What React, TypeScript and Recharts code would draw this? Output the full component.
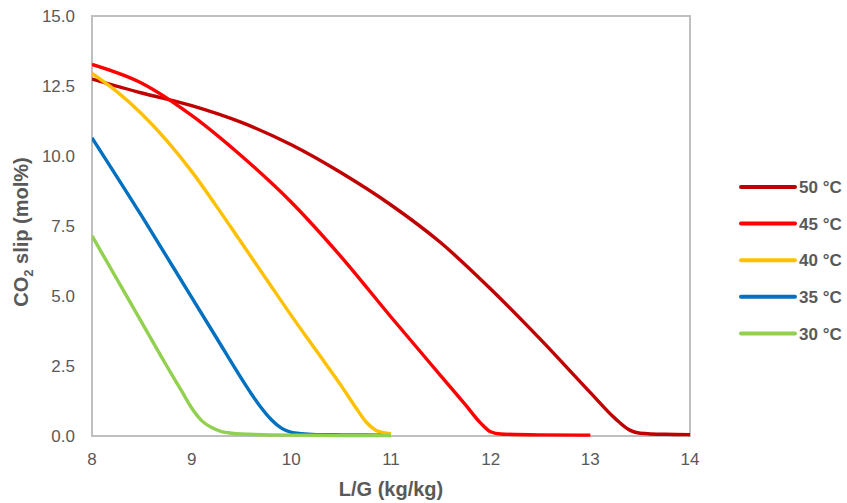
import { LineChart, Line, XAxis, YAxis, ReferenceArea, Legend } from 'recharts'

const FONT = '"Liberation Sans", Arial, sans-serif'
const TEXT = '#595959'
const FRAME = '#BFBFBF'

const X_TICKS = [8, 9, 10, 11, 12, 13, 14]
const Y_TICKS = [0, 2.5, 5, 7.5, 10, 12.5, 15]

// L/G (kg/kg) vs CO2 slip (mol%), one pair of lists per absorber temperature
const LG_50 = [8, 8.5, 9, 9.5, 10, 10.5, 11, 11.5, 12, 12.5, 13, 13.25, 13.4, 13.5, 13.75, 14]
const SLIP_50 = [12.75, 12.25, 11.8, 11.2, 10.4, 9.4, 8.25, 6.9, 5.25, 3.45, 1.55, 0.62, 0.2, 0.1, 0.06, 0.05]

const LG_45 = [8, 8.5, 9, 9.5, 10, 10.5, 11, 11.5, 11.75, 11.9, 12, 12.1, 12.5, 13]
const SLIP_45 = [13.27, 12.6, 11.45, 10.0, 8.35, 6.4, 4.25, 2.15, 1.1, 0.46, 0.15, 0.07, 0.04, 0.03]

const LG_40 = [8, 8.25, 8.5, 8.75, 9, 9.25, 9.5, 9.75, 10, 10.25, 10.5, 10.65, 10.75, 10.85, 10.95, 11]
const SLIP_40 = [12.95, 12.3, 11.5, 10.55, 9.45, 8.2, 6.9, 5.6, 4.3, 3.05, 1.8, 1.0, 0.5, 0.2, 0.1, 0.08]

const LG_35 = [8, 8.5, 9, 9.25, 9.5, 9.6, 9.7, 9.8, 9.9, 10, 10.1, 10.25, 10.5, 10.9]
const SLIP_35 = [10.65, 7.85, 4.95, 3.5, 2.05, 1.5, 1.0, 0.58, 0.28, 0.13, 0.08, 0.05, 0.04, 0.03]

const LG_30 = [8, 8.25, 8.5, 8.75, 8.9, 9, 9.1, 9.2, 9.3, 9.4, 9.5, 10, 10.5, 11]
const SLIP_30 = [7.15, 5.6, 4.05, 2.5, 1.6, 1.0, 0.55, 0.3, 0.16, 0.1, 0.07, 0.03, 0.02, 0.02]

const SERIES = [
  { name: '50 °C', color: '#C00000', lg: LG_50, slip: SLIP_50 },
  { name: '45 °C', color: '#FF0000', lg: LG_45, slip: SLIP_45 },
  { name: '40 °C', color: '#FFC000', lg: LG_40, slip: SLIP_40 },
  { name: '35 °C', color: '#0070C0', lg: LG_35, slip: SLIP_35 },
  { name: '30 °C', color: '#92D050', lg: LG_30, slip: SLIP_30 }
]

const toPoints = (lg: number[], slip: number[]) => lg.map((x, i) => ({ x, y: slip[i] }))

const renderLegend = () => (
  <svg width={112} height={185}>
    {SERIES.map((s, i) => (
      <g key={s.name} transform={`translate(0, ${17 + i * 36.6})`}>
        <line x1={6} x2={60} y1={0} y2={0} stroke={s.color} strokeWidth={4} strokeLinecap="round" />
        <text x={64} y={0} dy="0.36em" fontSize={17} fontWeight="bold" fill={TEXT} fontFamily={FONT}>
          {s.name}
        </text>
      </g>
    ))}
  </svg>
)

const XTitle = ({ viewBox }: any) => (
  <text
    x={viewBox.x + viewBox.width / 2}
    y={viewBox.y + 60}
    textAnchor="middle"
    fontSize={20}
    fontWeight="bold"
    fill={TEXT}
    fontFamily={FONT}
  >
    L/G (kg/kg)
  </text>
)

const YTitle = ({ viewBox }: any) => (
  <text
    transform={`translate(${viewBox.x + 28}, ${viewBox.y + viewBox.height / 2 + 6}) rotate(-90)`}
    textAnchor="middle"
    fontSize={20}
    fontWeight="bold"
    fill={TEXT}
    fontFamily={FONT}
  >
    <tspan>CO</tspan>
    <tspan fontSize={13} dy={5}>2</tspan>
    <tspan dy={-5}> slip (mol%)</tspan>
  </text>
)

export default function App() {
  const tick = { fill: TEXT, fontSize: 17, fontFamily: FONT }
  return (
    <div style={{ position: 'absolute', left: 0, top: 0, background: '#fff' }}>
      {/* right margin leaves room for the legend box recharts adds on its own */}
      <LineChart width={847} height={503} margin={{ top: 16, right: 45, bottom: 0, left: 0 }}>
        <XAxis
          type="number"
          dataKey="x"
          domain={[8, 14]}
          ticks={X_TICKS}
          allowDataOverflow
          axisLine={false}
          tickLine={false}
          tickSize={0}
          tickMargin={17}
          height={67}
          tick={tick}
          label={{ content: XTitle }}
        />
        <YAxis
          type="number"
          dataKey="y"
          domain={[0, 15]}
          ticks={Y_TICKS}
          axisLine={false}
          tickLine={false}
          tickSize={0}
          tickMargin={17}
          width={92}
          tick={tick}
          tickFormatter={(v: number) => v.toFixed(1)}
          label={{ content: YTitle }}
        />
        <ReferenceArea x1={8} x2={14} y1={0} y2={15} fill="none" stroke={FRAME} strokeWidth={2} />
        {SERIES.map((s) => (
          <Line
            key={s.name}
            data={toPoints(s.lg, s.slip)}
            dataKey="y"
            name={s.name}
            type="monotone"
            stroke={s.color}
            strokeWidth={3.4}
            dot={false}
            activeDot={false}
            isAnimationActive={false}
          />
        ))}
        <Legend
          layout="horizontal"
          verticalAlign="middle"
          align="right"
          content={renderLegend}
          wrapperStyle={{ left: 735, top: 170, width: 112, height: 185 }}
        />
      </LineChart>
    </div>
  )
}
